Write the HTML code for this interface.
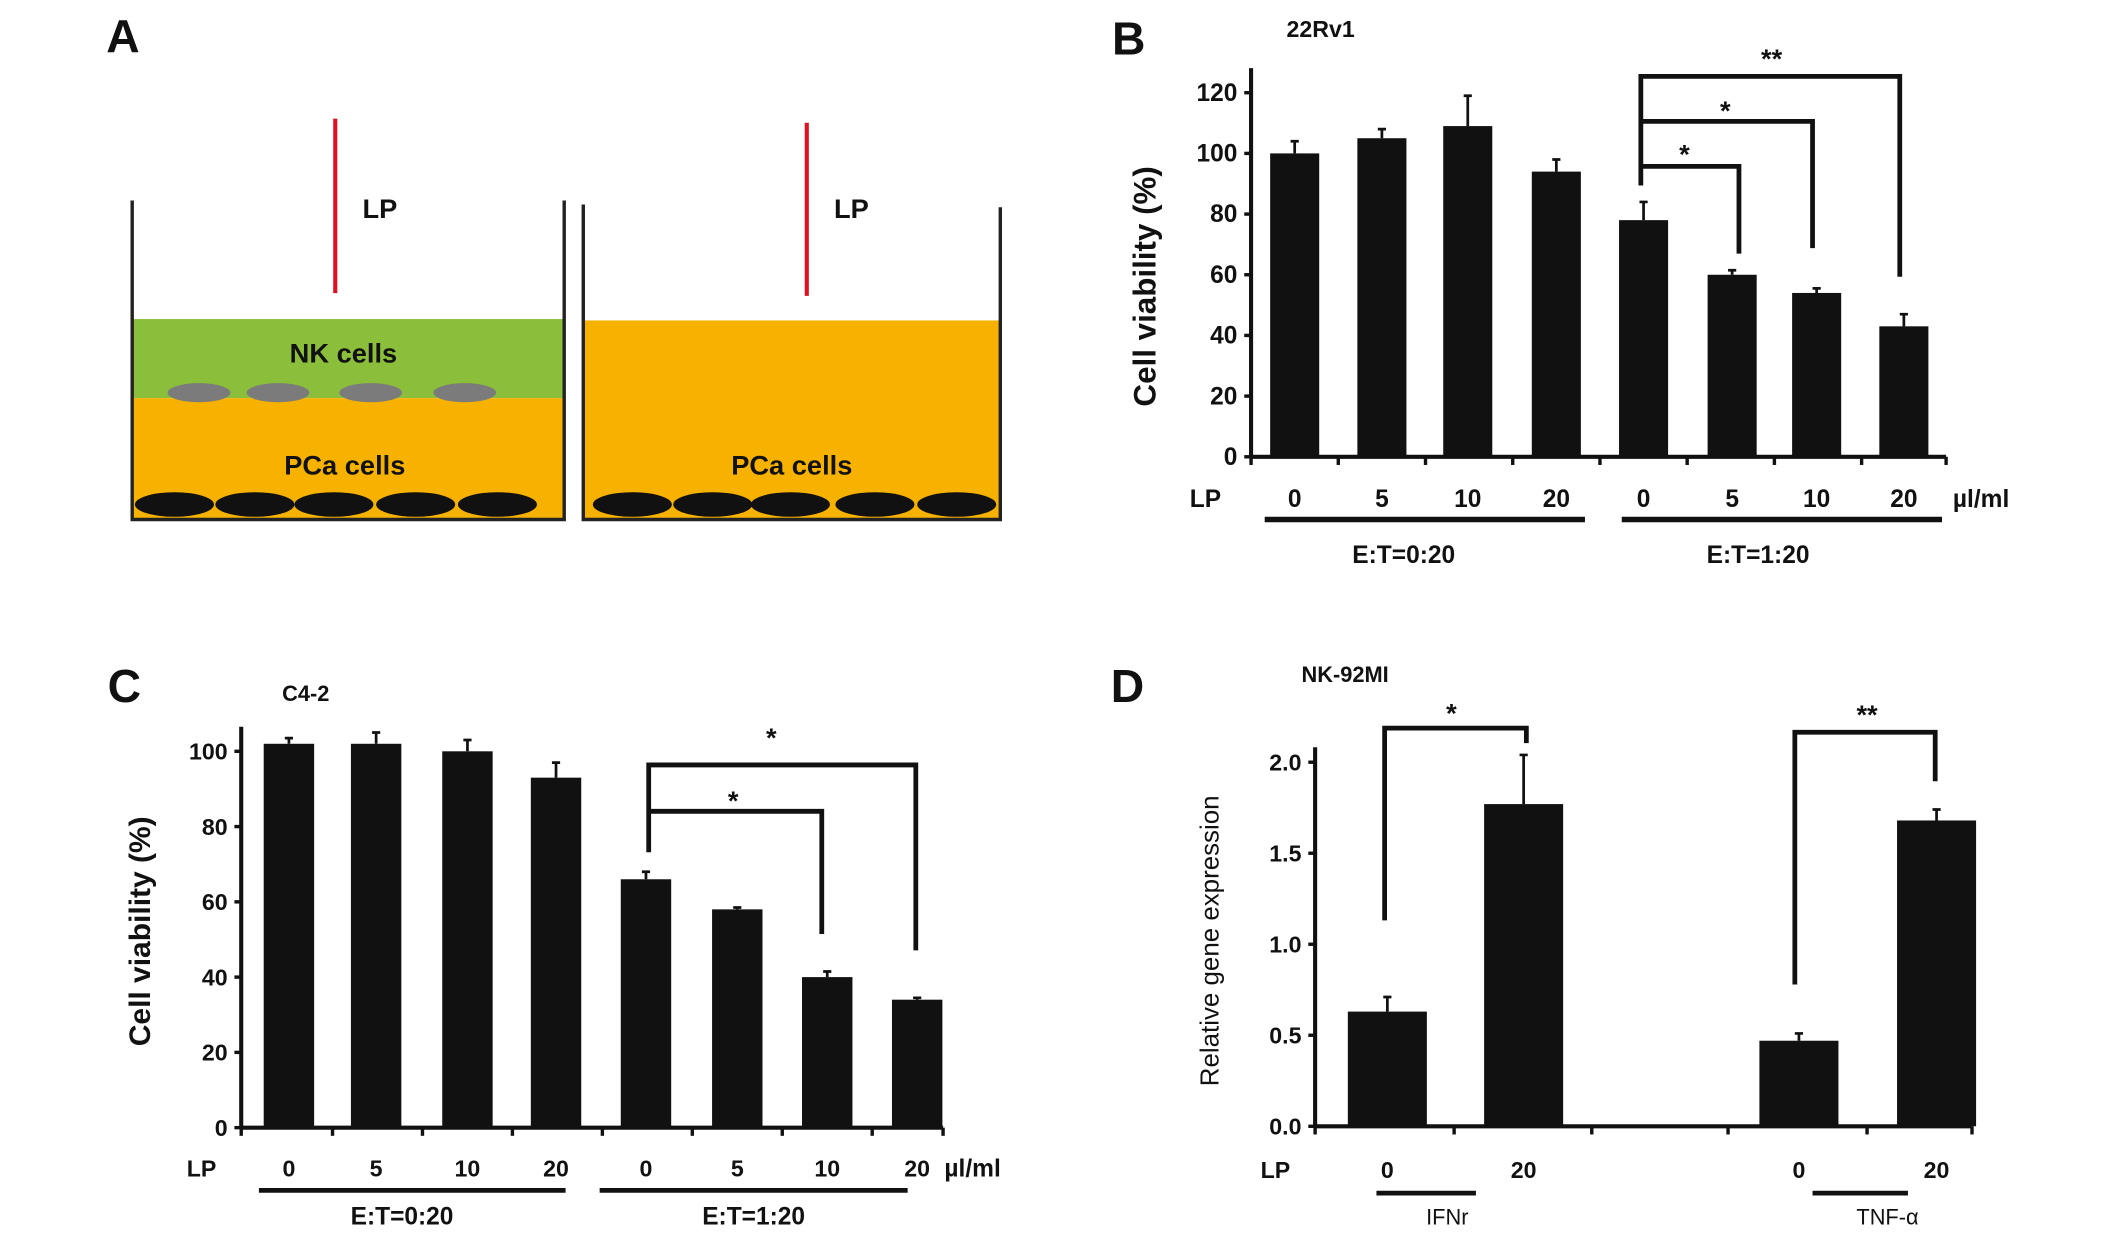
<!DOCTYPE html>
<html><head><meta charset="utf-8"><style>
html,body{margin:0;padding:0;background:#fff;}
svg{display:block;font-family:"Liberation Sans Narrow","Liberation Sans",sans-serif;}
.t{font-weight:bold;fill:#111;}
</style></head><body>
<svg id="fig" width="2126" height="1234" viewBox="0 0 1560 905" preserveAspectRatio="none">
 <g>
  <text class="t" x="78" y="38" font-size="34">A</text>
  <rect x="98" y="234" width="315" height="58" fill="#8bbe3a"/>
  <rect x="98" y="292" width="315" height="89" fill="#f7b200"/>
  <rect x="429" y="235" width="305" height="146" fill="#f7b200"/>
  <g fill="#7b7b7b">
   <ellipse cx="146" cy="288" rx="23" ry="7"/><ellipse cx="204" cy="288" rx="23" ry="7"/><ellipse cx="272" cy="288" rx="23" ry="7"/><ellipse cx="341" cy="288" rx="23" ry="7"/>
  </g>
  <g fill="#111">
   <ellipse cx="128" cy="370" rx="29" ry="9"/><ellipse cx="187" cy="370" rx="29" ry="9"/><ellipse cx="245" cy="370" rx="29" ry="9"/><ellipse cx="305" cy="370" rx="29" ry="9"/><ellipse cx="365" cy="370" rx="29" ry="9"/>
   <ellipse cx="464" cy="370" rx="29" ry="9"/><ellipse cx="523" cy="370" rx="29" ry="9"/><ellipse cx="580" cy="370" rx="29" ry="9"/><ellipse cx="642" cy="370" rx="29" ry="9"/><ellipse cx="702" cy="370" rx="29" ry="9"/>
  </g>
  <path d="M97 147V381H414V147M428 150V381H734V152" fill="none" stroke="#222" stroke-width="2.5"/>
  <line x1="246" y1="87" x2="246" y2="215" stroke="#e01020" stroke-width="3"/>
  <line x1="592" y1="90" x2="592" y2="217" stroke="#e01020" stroke-width="3"/>
  <text class="t" x="266" y="160" font-size="20">LP</text>
  <text class="t" x="612" y="160" font-size="20">LP</text>
  <text class="t" x="252" y="266" font-size="20" text-anchor="middle">NK cells</text>
  <text class="t" x="253" y="348" font-size="20" text-anchor="middle">PCa cells</text>
  <text class="t" x="581" y="348" font-size="20" text-anchor="middle">PCa cells</text>
 </g>
 <g id="pb"></g>
 <g id="pc"></g>
 <g id="pd"></g>
</svg>
<script>
// Panel B data (22Rv1)
const bCats = ["0","5","10","20","0","5","10","20"];
const bVals = [100,105,109,94,78,60,54,43];
const bErrs = [4,3,10,4,6,1.5,1.5,4];
const bTicks = [0,20,40,60,80,100,120];
// Panel C data (C4-2)
const cCats = ["0","5","10","20","0","5","10","20"];
const cVals = [102,102,100,93,66,58,40,34];
const cErrs = [1.5,3,3,4,2,0.5,1.5,0.5];
const cTicks = [0,20,40,60,80,100];
// Panel D data (NK-92MI)
const dCats = ["0","20","0","20"];
const dVals = [0.63,1.77,0.47,1.68];
const dErrs = [0.08,0.27,0.04,0.06];
const dTicks = ["0.0","0.5","1.0","1.5","2.0"];

const NS="http://www.w3.org/2000/svg";
function mk(parent,tag,attrs,text){const e=document.createElementNS(NS,tag);for(const k in attrs)e.setAttribute(k,attrs[k]);if(text!==undefined)e.textContent=text;parent.appendChild(e);return e;}

function chart(g,o){
  const y=v=>o.y0-(v-o.vmin)/(o.vmax-o.vmin)*(o.y0-o.y1);
  const x=i=>o.xs[i];
  // axes
  let ax=mk(g,'line',{x1:o.ax,y1:o.ytop,x2:o.ax,y2:o.y0,stroke:'#111','stroke-width':3});
  
  
  let bx=mk(g,'line',{x1:o.ax,y1:o.y0,x2:o.xend,y2:o.y0,stroke:'#111','stroke-width':3});
  
  
  o.ticks.forEach(t=>{
    const v=parseFloat(t);
    const tk=mk(g,'line',{x1:o.ax-5,y1:y(v),x2:o.ax,y2:y(v),stroke:'#111','stroke-width':2.5});
    
    
    const tl=mk(g,'text',{class:'t',x:o.ax-10,y:y(v)+6,'font-size':o.fs,'text-anchor':'end'},String(t));
    
    
  });
  o.xticks.forEach(xt=>{
    const tk=mk(g,'line',{x1:xt,y1:o.y0,x2:xt,y2:o.y0+6,stroke:'#111','stroke-width':2.5});
    
    
  });
  o.vals.forEach((v,i)=>{
    const b=mk(g,'rect',{x:x(i)-o.bw/2,y:y(v),width:o.bw,height:o.y0-y(v),fill:'#111'});
    
    
    const e=mk(g,'path',{d:`M${x(i)} ${y(v)}V${y(v+o.errs[i])}M${x(i)-3} ${y(v+o.errs[i])}H${x(i)+3}`,stroke:'#111','stroke-width':2,fill:'none'});
    
    
    const l=mk(g,'text',{class:'t',x:x(i),y:o.ly,'font-size':o.fs,'text-anchor':'middle'},o.cats[i]);
    
    
  });
  return y;
}
function txt(g,name,x,y,s,fs,anchor,extra){const t=mk(g,'text',Object.assign({class:'t',x:x,y:y,'font-size':fs,'text-anchor':anchor||'start'},extra||{}),s);return t;}
function path(g,name,d,w){const p=mk(g,'path',{d:d,stroke:'#111','stroke-width':w||3.5,fill:'none'});return p;}

// Panel B
{const g=document.getElementById('pb');
 chart(g,{y0:335,y1:68,vmin:0,vmax:120,ytop:50,ax:918,xend:1428,xs:[950,1014,1077,1142,1206,1271,1333,1397],bw:36,vals:bVals,errs:bErrs,cats:bCats,ticks:bTicks,xticks:[918,982,1046,1110,1174,1238,1302,1366,1428],fs:18,ly:372});
 txt(g,'panel-b-label',816,40,'B',34);
 txt(g,'cell-line-title',944,27,'22Rv1',17);
 txt(g,'y-axis-title',848,210,'Cell viability (%)',23,'middle',{transform:'rotate(-90 848 210)'});
 txt(g,'lp-label',873,372,'LP',18);
 txt(g,'unit-label',1433,372,'µl/ml',18);
 path(g,'group-underline-0-20','M928 381H1163',4);path(g,'group-underline-1-20','M1190 381H1425',4);
 txt(g,'group-label-0-20',1030,413,'E:T=0:20',18,'middle');txt(g,'group-label-1-20',1290,413,'E:T=1:20',18,'middle');
 path(g,'bracket-0-20','M1204 136V56H1394V203');path(g,'bracket-0-10','M1204 89H1330V182');path(g,'bracket-0-5','M1204 122H1276V186');
 txt(g,'sig-star-20',1300,50,'**',20,'middle');txt(g,'sig-star-10',1266,88,'*',20,'middle');txt(g,'sig-star-5',1236,120,'*',20,'middle');}
// Panel C
{const g=document.getElementById('pc');
 chart(g,{y0:827,y1:551,vmin:0,vmax:100,ytop:533,ax:177,xend:692,xs:[212,276,343,408,474,541,607,673],bw:37,vals:cVals,errs:cErrs,cats:cCats,ticks:cTicks,xticks:[177,244,310,376,442,508,574,640,692],fs:17,ly:863});
 txt(g,'panel-c-label',79,515,'C',34);
 txt(g,'cell-line-title',207,514,'C4-2',16);
 txt(g,'y-axis-title',110,683,'Cell viability (%)',22,'middle',{transform:'rotate(-90 110 683)'});
 txt(g,'lp-label',137,863,'LP',17);
 txt(g,'unit-label',693,863,'µl/ml',18);
 path(g,'group-underline-0-20','M190 873H415',3.5);path(g,'group-underline-1-20','M440 873H666',3.5);
 txt(g,'group-label-0-20',295,898,'E:T=0:20',18,'middle');txt(g,'group-label-1-20',553,898,'E:T=1:20',18,'middle');
 path(g,'bracket-0-20','M476 625V561H672V697');path(g,'bracket-0-10','M476 595H603V685');
 txt(g,'sig-star-20',566,548,'*',20,'middle');txt(g,'sig-star-10',538,594,'*',20,'middle');}
// Panel D
{const g=document.getElementById('pd');
 chart(g,{y0:826,y1:559,vmin:0,vmax:2,ytop:548,ax:965,xend:1447,xs:[1018,1118,1320,1421],bw:58,vals:dVals,errs:dErrs,cats:dCats,ticks:dTicks,xticks:[965,1067,1168,1268,1370,1447],fs:17,ly:864});
 txt(g,'panel-d-label',815,515,'D',34);
 txt(g,'cell-line-title',955,500,'NK-92MI',16);
 txt(g,'y-axis-title',894,690,'Relative gene expression',19,'middle',{transform:'rotate(-90 894 690)',style:'font-weight:normal'});
 txt(g,'lp-label',925,864,'LP',17);
 path(g,'group-underline-ifnr','M1010 875H1083',3.5);path(g,'group-underline-tnf','M1330 875H1400',3.5);
 txt(g,'group-label-ifnr',1062,898,'IFNr',16,'middle',{style:'font-weight:normal'});txt(g,'group-label-tnf',1385,898,'TNF-α',16,'middle',{style:'font-weight:normal'});
 path(g,'bracket-ifnr','M1016 675V534H1120V545');path(g,'bracket-tnf','M1317 722V537H1420V573');
 txt(g,'sig-star-ifnr',1065,530,'*',20,'middle');txt(g,'sig-star-tnf',1370,531,'**',20,'middle');}
</script>
</body></html>
